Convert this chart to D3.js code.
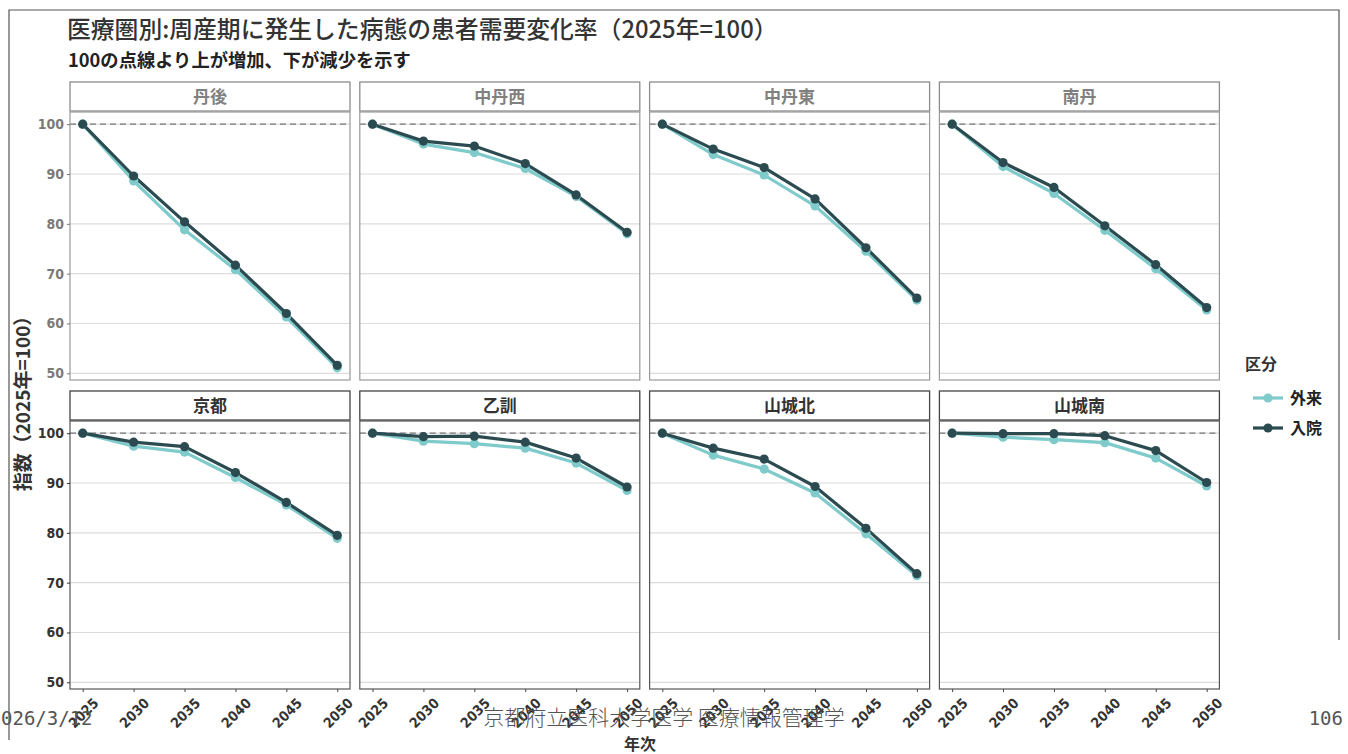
<!DOCTYPE html>
<html><head><meta charset="utf-8">
<script src="https://cdn.jsdelivr.net/npm/d3@7"></script>
<style>
html,body{margin:0;padding:0;background:#fff;}
svg{display:block;}
.num{font-family:"Liberation Sans Narrow","DejaVu Sans Condensed","Liberation Sans",sans-serif;}
.jp{font-family:"Noto Sans CJK JP","Noto Sans CJK SC",sans-serif;}
</style></head>
<body>
<script>
// ---- data ----
const years = [2025, 2030, 2035, 2040, 2045, 2050];
const regions = ["丹後", "中丹西", "中丹東", "南丹", "京都", "乙訓", "山城北", "山城南"];
const seriesNames = ["外来", "入院"];
const yTicks = [50, 60, 70, 80, 90, 100];
// 外来 (outpatient) per region, order as regions
const outpatientValues = [
  [100, 88.6, 78.8, 70.8, 61.3, 51.1],
  [100, 96.0, 94.3, 91.1, 85.5, 78.0],
  [100, 93.9, 89.8, 83.6, 74.5, 64.7],
  [100, 91.5, 86.1, 78.7, 71.0, 62.7],
  [100, 97.4, 96.2, 91.1, 85.6, 78.9],
  [100, 98.4, 97.9, 97.0, 94.0, 88.5],
  [100, 95.6, 92.8, 88.0, 79.8, 71.4],
  [100, 99.2, 98.7, 98.1, 95.0, 89.4]
];
// 入院 (inpatient)
const inpatientValues = [
  [100, 89.6, 80.4, 71.7, 62.0, 51.6],
  [100, 96.6, 95.6, 92.1, 85.8, 78.3],
  [100, 95.0, 91.3, 85.0, 75.2, 65.1],
  [100, 92.3, 87.3, 79.6, 71.8, 63.2],
  [100, 98.2, 97.3, 92.1, 86.1, 79.5],
  [100, 99.3, 99.4, 98.2, 95.0, 89.2],
  [100, 97.0, 94.8, 89.3, 80.9, 71.8],
  [100, 99.9, 99.9, 99.5, 96.5, 90.1]
];
const titleText = "医療圏別:周産期に発生した病態の患者需要変化率（2025年=100）";
const subtitleText = "100の点線より上が増加、下が減少を示す";
const yAxisTitle = "指数（2025年=100）";
const xAxisTitle = "年次";
const legendTitle = "区分";

// ---- style ----
const colors = {"外来": "#7fcaca", "入院": "#2b4b51"};
const W = 1348, H = 754;
const svg = d3.select("body").append("svg").attr("width", W).attr("height", H);

// page frame (scan)
svg.append("path").attr("d", "M9,740 L9,10 L1339,10 L1339,640")
  .attr("fill", "none").attr("stroke", "#555").attr("stroke-width", 1.2);

svg.append("text").attr("class", "jp").attr("x", 67).attr("y", 38)
  .attr("font-size", 23.8).attr("font-weight", 500).attr("fill", "#333").text(titleText);
svg.append("text").attr("class", "jp").attr("x", 68).attr("y", 67)
  .attr("font-size", 18.3).attr("font-weight", 700).attr("fill", "#222").text(subtitleText);

// layout
const panelW = 280, colStep = 289.8, left0 = 70;
const stripH = 30, panelH = 268;
const rowTop = [82, 391];

const allVals = outpatientValues.flat().concat(inpatientValues.flat());
const ext = d3.extent(allVals);
const pad = (ext[1] - ext[0]) * 0.05;
const y = d3.scaleLinear().domain([ext[0] - pad, ext[1] + pad]).range([panelH, 0]);
const xPad = (years[years.length - 1] - years[0]) * 0.05;
const x = d3.scaleLinear().domain([years[0] - xPad, years[years.length - 1] + xPad]).range([0, panelW]);

const line = d3.line().x(d => x(d.year)).y(d => y(d.value));

regions.forEach((reg, i) => {
  const col = i % 4, row = Math.floor(i / 4);
  const gx = left0 + col * colStep, gy = rowTop[row];
  const dark = row === 1;
  const g = svg.append("g").attr("transform", `translate(${gx},${gy})`);
  // strip
  g.append("rect").attr("x", 0).attr("y", 0).attr("width", panelW).attr("height", stripH - 1)
    .attr("fill", "#fff").attr("stroke", dark ? "#444" : "#8c8c8c").attr("stroke-width", 1.3);
  g.append("text").attr("class", "jp").attr("x", panelW / 2).attr("y", stripH / 2 + 6)
    .attr("text-anchor", "middle").attr("font-size", 17).attr("font-weight", 700)
    .attr("fill", dark ? "#333" : "#808080").text(reg);
  const p = g.append("g").attr("transform", `translate(0,${stripH})`);
  // gridlines
  p.selectAll("line.grid").data(yTicks).join("line").attr("class", "grid")
    .attr("x1", 0).attr("x2", panelW).attr("y1", d => y(d)).attr("y2", d => y(d))
    .attr("stroke", "#dcdcdc").attr("stroke-width", 1.2);
  // reference 100 dashed
  p.append("line").attr("x1", 0).attr("x2", panelW).attr("y1", y(100)).attr("y2", y(100))
    .attr("stroke", "#777").attr("stroke-width", 1.2).attr("stroke-dasharray", "6,4");
  // border
  p.append("rect").attr("x", 0).attr("y", 0).attr("width", panelW).attr("height", panelH)
    .attr("fill", "none").attr("stroke", dark ? "#555" : "#9a9a9a").attr("stroke-width", 1.2);

  const series = [
    {name: "外来", vals: outpatientValues[i]},
    {name: "入院", vals: inpatientValues[i]}
  ].map(s => ({name: s.name, pts: years.map((yr, k) => ({year: yr, value: s.vals[k]}))}));
  series.forEach(s => {
    p.append("path").datum(s.pts).attr("d", line).attr("fill", "none")
      .attr("stroke", colors[s.name]).attr("stroke-width", 3.2).attr("stroke-linejoin", "round");
  });
  series.forEach(s => {
    p.selectAll(null).data(s.pts).join("circle")
      .attr("cx", d => x(d.year)).attr("cy", d => y(d.value)).attr("r", 4.6)
      .attr("fill", colors[s.name]);
  });

  // y axis on first column
  if (col === 0) {
    const ya = p.append("g").call(d3.axisLeft(y).tickValues(yTicks).tickSize(3).tickPadding(3));
    ya.select(".domain").remove();
    ya.selectAll("line").attr("stroke", dark ? "#333" : "#777");
    ya.selectAll("text").attr("class", "num").attr("font-size", 14).attr("font-weight", 700)
      .attr("fill", dark ? "#333" : "#7a7a7a");
  }
  // x axis on bottom row
  if (row === 1) {
    const xa = p.append("g").attr("transform", `translate(0,${panelH})`)
      .call(d3.axisBottom(x).tickValues(years).tickFormat(d3.format("d")).tickSize(3));
    xa.select(".domain").remove();
    xa.selectAll("line").attr("stroke", "#444");
    xa.selectAll("text").attr("class", "num").attr("font-size", 14).attr("font-weight", 700)
      .attr("fill", "#333").attr("text-anchor", "end")
      .attr("transform", "translate(5,4) rotate(-45)").attr("dy", "0.7em").attr("dx", "0");
  }
});

// axis titles
svg.append("text").attr("class", "jp").attr("transform", "translate(30,399) rotate(-90)")
  .attr("text-anchor", "middle").attr("font-size", 19).attr("font-weight", 700)
  .attr("fill", "#333").text(yAxisTitle);
svg.append("text").attr("class", "jp").attr("x", 640).attr("y", 750)
  .attr("text-anchor", "middle").attr("font-size", 16).attr("font-weight", 700)
  .attr("fill", "#333").text(xAxisTitle);

// legend
const lg = svg.append("g").attr("transform", "translate(1245,0)");
lg.append("text").attr("class", "jp").attr("x", 0).attr("y", 370).attr("font-size", 16)
  .attr("font-weight", 700).attr("fill", "#333").text(legendTitle);
seriesNames.forEach((nm, k) => {
  const cy = 398 + k * 30;
  lg.append("line").attr("x1", 8).attr("x2", 38).attr("y1", cy).attr("y2", cy)
    .attr("stroke", colors[nm]).attr("stroke-width", 3.2);
  lg.append("circle").attr("cx", 23).attr("cy", cy).attr("r", 4.6).attr("fill", colors[nm]);
  lg.append("text").attr("class", "jp").attr("x", 45).attr("y", cy + 6).attr("font-size", 16)
    .attr("font-weight", 700).attr("fill", "#222").text(nm);
});

// scan footer texts (page date is cut at the left edge in the scan)
const footer = svg.append("g").attr("fill", "#555").attr("font-family", "'DejaVu Sans Mono',monospace");
footer.append("text").attr("x", 1).attr("y", 725).attr("font-size", 19).text("026/3/12");
footer.append("text").attr("class", "jp").attr("x", 664).attr("y", 725).attr("text-anchor", "middle")
  .attr("font-size", 21).attr("font-weight", 300).attr("fill", "#555").text("京都府立医科大学医学 医療情報管理学");
footer.append("text").attr("x", 1343).attr("y", 725).attr("text-anchor", "end")
  .attr("font-size", 19).text("106");
</script>
</body></html>
